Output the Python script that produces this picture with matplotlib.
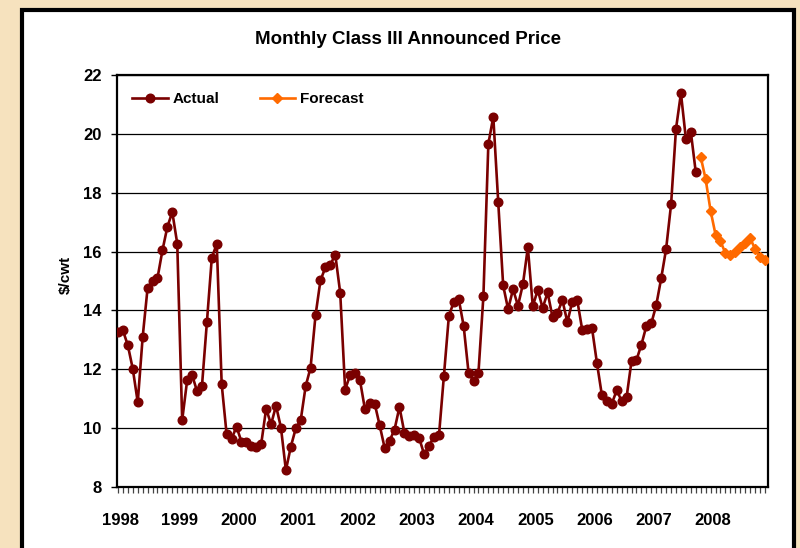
import matplotlib
matplotlib.use("Agg")
import matplotlib.pyplot as plt
from matplotlib.patches import Rectangle
import numpy as np

plt.rcParams['font.family'] = ['Liberation Sans', 'DejaVu Sans']

# ---- data (monthly, Jan 1998 onward) ----
actual = [
    13.25, 13.32, 12.81, 12.01, 10.88, 13.10, 14.77, 14.99, 15.10, 16.04, 16.84, 17.34,  # 1998
    16.27, 10.27, 11.62, 11.81, 11.26, 11.42, 13.59, 15.79, 16.26, 11.49, 9.79, 9.63,    # 1999
    10.05, 9.54, 9.54, 9.41, 9.37, 9.46, 10.66, 10.13, 10.76, 10.02, 8.57, 9.37,         # 2000
    9.99, 10.27, 11.42, 12.06, 13.83, 15.02, 15.46, 15.55, 15.90, 14.60, 11.31, 11.80,   # 2001
    11.87, 11.63, 10.65, 10.85, 10.82, 10.09, 9.33, 9.57, 9.95, 10.72, 9.84, 9.74,       # 2002
    9.78, 9.66, 9.11, 9.41, 9.71, 9.75, 11.78, 13.80, 14.30, 14.39, 13.47, 11.87,        # 2003
    11.61, 11.89, 14.49, 19.66, 20.58, 17.68, 14.85, 14.04, 14.72, 14.16, 14.89, 16.14,  # 2004
    14.14, 14.70, 14.08, 14.61, 13.77, 13.92, 14.35, 13.60, 14.30, 14.35, 13.35, 13.37,  # 2005
    13.39, 12.20, 11.11, 10.93, 10.83, 11.29, 10.92, 11.06, 12.29, 12.32, 12.84, 13.47,  # 2006
    13.56, 14.18, 15.09, 16.09, 17.60, 20.17, 21.38, 19.83, 20.07, 18.70,                # 2007 (Jan-Oct)
]
forecast = [19.22, 18.46,                                                              # Nov-Dec 2007
            17.39, 16.58, 16.35, 15.95, 15.87, 15.97, 16.14, 16.30, 16.45, 16.10, 15.80, 15.72]  # 2008
years = ['1998', '1999', '2000', '2001', '2002', '2003', '2004', '2005', '2006', '2007', '2008']
y_ticks = [8, 10, 12, 14, 16, 18, 20, 22]

title = 'Monthly Class III Announced Price'
ylabel = '$/cwt'

# ---- figure ----
W, H = 800, 548
fig = plt.figure(figsize=(W / 100, H / 100), dpi=100)
fig.patch.set_facecolor('#F6E2BE')

# white chart box with thick black border
box = Rectangle((22 / W, -0.05), (794 - 22) / W, (H - 10) / H + 0.05,
                transform=fig.transFigure, facecolor='white', edgecolor='black',
                linewidth=3.0, zorder=-10)
fig.patches.append(box)

ax = fig.add_axes([117 / W, (H - 487) / H, (768 - 117) / W, (487 - 75) / H])
ax.set_facecolor('white')

x_act = np.arange(len(actual))
x_fc = np.arange(len(actual), len(actual) + len(forecast))

ax.plot(x_act, actual, color='#7A0000', linewidth=1.9, marker='o', markersize=6.2,
        markerfacecolor='#7A0000', markeredgecolor='#7A0000', label='Actual', zorder=3)
ax.plot(x_fc, forecast, color='#FF6A00', linewidth=1.9, marker='D', markersize=5.2,
        markerfacecolor='#FF6A00', markeredgecolor='#FF6A00', label='Forecast', zorder=3)

n_total = len(actual) + len(forecast)
ax.set_xlim(-0.2, n_total - 1 + 0.63)
ax.set_ylim(y_ticks[0], y_ticks[-1])

# y axis
ax.set_yticks(y_ticks)
ax.set_yticklabels([str(v) for v in y_ticks], fontsize=12, fontweight='bold')
ax.tick_params(axis='y', direction='out', length=4.5, width=1, pad=6.5, color='black')
ax.yaxis.grid(True, color='black', linewidth=0.9)
ax.set_axisbelow(True)

# x axis: month ticks (minor) and year labels (major)
ax.set_xticks(np.arange(n_total), minor=True)
ax.set_xticks(np.arange(len(years)) * 12 + 0.5)
ax.set_xticklabels(years, fontsize=12, fontweight='bold')
ax.tick_params(axis='x', which='major', length=0, pad=19)
ax.tick_params(axis='x', which='minor', direction='out', length=4, width=0.9, color='#444444')

for s in ax.spines.values():
    s.set_color('black')
    s.set_linewidth(1.6)

ax.set_ylabel(ylabel, fontsize=11, fontweight='bold')
ax.yaxis.set_label_coords(-0.068, 0.515)

fig.text(0.51, (H - 40) / H, title, ha='center', va='center', fontsize=13.5, fontweight='bold')

leg = ax.legend(loc='center left', bbox_to_anchor=(0.012, (487 - 99) / 412), ncol=2,
                frameon=True, fancybox=False, edgecolor='white', facecolor='white', framealpha=1,
                prop={'weight': 'bold', 'size': 11}, handlelength=2.3, handletextpad=0.35,
                columnspacing=2.6, borderaxespad=0, borderpad=0.5)

fig.savefig('out.png', dpi=100, facecolor=fig.get_facecolor())
